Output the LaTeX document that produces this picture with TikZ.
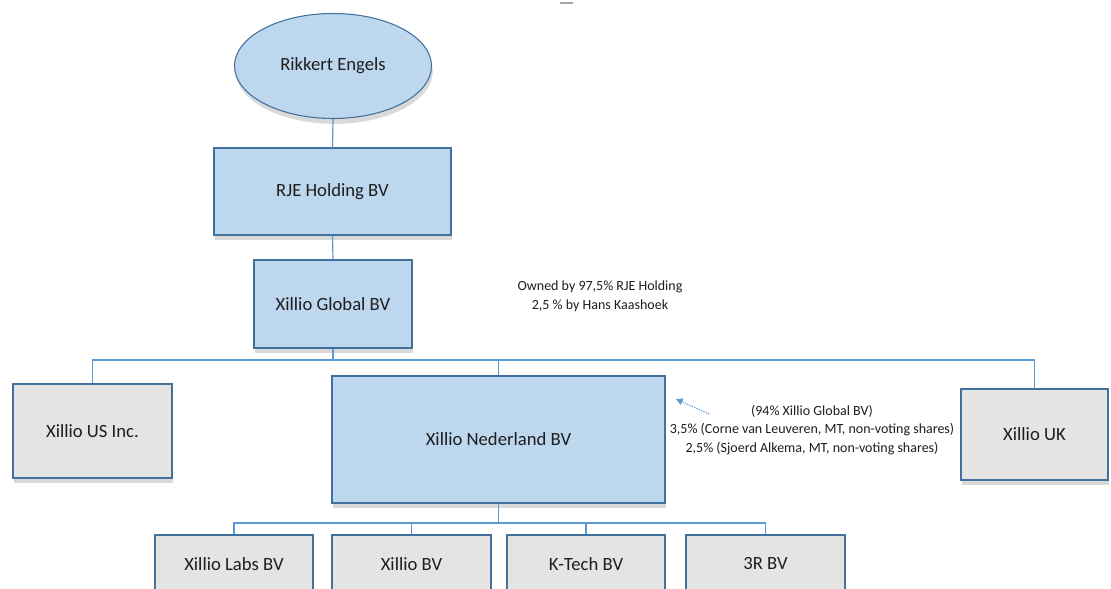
\documentclass[tikz,border=0pt]{standalone}
\usepackage{fontspec}
\setmainfont{Carlito}
\usetikzlibrary{shapes.geometric,shadows,arrows.meta}

\definecolor{boxblue}{RGB}{189,215,238}
\definecolor{boxgray}{RGB}{228,228,228}
\definecolor{edgeblue}{RGB}{65,113,156}
\definecolor{linkblue}{RGB}{91,155,213}
\definecolor{inkdark}{RGB}{30,30,30}

\begin{document}
\begin{tikzpicture}[x=0.75pt,y=0.75pt,yscale=-1,xscale=1,
	entity/.style={draw=edgeblue, line width=0.8pt, text=inkdark, font=\fontsize{14pt}{16pt}\selectfont,
		drop shadow={shadow xshift=1pt, shadow yshift=-4pt, opacity=0.15, fill=black}},
	mainbox/.style={entity, fill=boxblue},
	sidebox/.style={entity, fill=boxgray},
	link/.style={draw=linkblue, line width=0.9pt},
	remark/.style={align=center, text=inkdark, font=\fontsize{10.5pt}{14pt}\selectfont, inner sep=0pt}]
	\useasboundingbox (0,0) rectangle (1111,589);
	\clip (0,0) rectangle (1111,589);
	\fill[white] (0,0) rectangle (1111,589);
	\draw[gray!70, line width=1.5pt] (560,3) -- (573,3);
	% owner and holdings
	\node[mainbox, ellipse, minimum width=147.75pt, minimum height=78.75pt] (owner) at (333,66) {Rikkert Engels};
	\node[mainbox, minimum width=177.75pt, minimum height=65.25pt] (holding) at (332.5,191.5) {RJE Holding BV};
	\node[mainbox, minimum width=118.5pt, minimum height=66pt] (global) at (333,304) {Xillio Global BV};
	% subsidiaries
	\node[sidebox, minimum width=119.25pt, minimum height=70.5pt] (us) at (92.5,431) {Xillio US Inc.};
	\node[mainbox, minimum width=249.75pt, minimum height=95.25pt] (nl) at (498.5,439.5) {Xillio Nederland BV};
	\node[sidebox, minimum width=110.25pt, minimum height=68.25pt] (uk) at (1034.5,434.5) {Xillio UK};
	\node[sidebox, minimum width=118.5pt, minimum height=43.5pt] (labs) at (234,564) {Xillio Labs BV};
	\node[sidebox, minimum width=119.25pt, minimum height=43.5pt] (xbv) at (411.5,564) {Xillio BV};
	\node[sidebox, minimum width=118.5pt, minimum height=43.5pt] (ktech) at (586,564) {K-Tech BV};
	\node[sidebox, minimum width=119.25pt, minimum height=43.5pt] (rr) at (765.5,564) {3R BV};
	% remarks
	\node[remark] (globalnote) at (600,296) {Owned by 97,5\% RJE Holding\\2,5 \% by Hans Kaashoek};
	\node[remark] (nlnote) at (812,430) {(94\% Xillio Global BV)\\3,5\% (Corne van Leuveren, MT, non-voting shares)\\2,5\% (Sjoerd Alkema, MT, non-voting shares)};
	\coordinate (notetail) at (709,414);
	\coordinate (notetip) at (676,399);
	\coordinate (busA) at (0,360);
	\coordinate (busB) at (0,523);
	% connectors
	\draw[link] (owner.south) -- (holding.north);
	\draw[link] (holding.south) -- (global.north);
	\draw[link] (global.south) -- (global.south |- busA);
	\draw[link] (us.north) -- (us.north |- busA) -- (uk.north |- busA) -- (uk.north);
	\draw[link] (nl.north) -- (nl.north |- busA);
	\draw[link] (nl.south) -- (nl.south |- busB);
	\draw[link] (labs.north) -- (labs.north |- busB) -- (rr.north |- busB) -- (rr.north);
	\draw[link] (xbv.north) -- (xbv.north |- busB);
	\draw[link] (ktech.north) -- (ktech.north |- busB);
	\draw[linkblue, densely dotted, line width=0.9pt, -{Triangle[length=5pt,width=5pt]}] (notetail) -- (notetip);
\end{tikzpicture}
\end{document}
